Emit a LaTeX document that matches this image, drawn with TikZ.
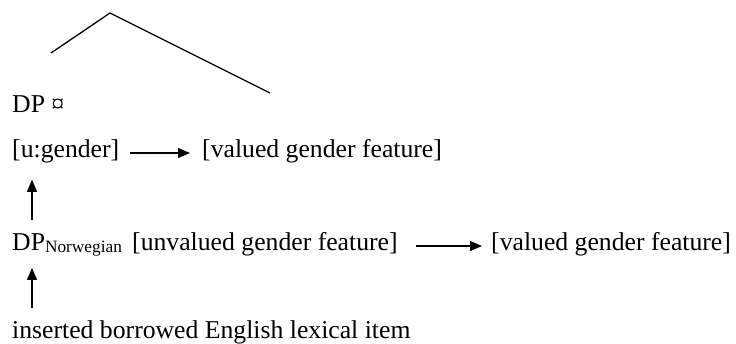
\documentclass[tikz,border=0pt]{standalone}
\usepackage{fontspec}
\setmainfont{Liberation Serif}
\usetikzlibrary{arrows.meta}
\begin{document}
\begin{tikzpicture}[x=1pt,y=-1pt,
  txt/.style={anchor=base west,inner sep=0pt,font=\fontsize{25.7}{30}\selectfont},
  ln/.style={line width=1.3pt},
  arr/.style={line width=1.3pt,-{Triangle[length=12pt,width=10pt]}}]
\useasboundingbox (0,0) rectangle (736,343);
% tree fragment
\coordinate (apex) at (110,13);
\coordinate (lb) at (51,53);
\coordinate (rb) at (270,93);
\draw[ln] (lb) -- (apex) -- (rb);
% texts
\node[txt] (dp) at (12,112) {DP ¤};
\node[txt] (ug) at (12,157) {[u:gender]};
\node[txt] (vg1) at (202,157) {[valued gender feature]};
\node[txt] (dpn) at (12,250) {DP\raisebox{-2pt}{\fontsize{17.3}{20}\selectfont Norwegian}};
\node[txt] (unv) at (132,250) {[unvalued gender feature]};
\node[txt] (vg2) at (491,250) {[valued gender feature]};
\node[txt] (ins) at (12,338) {inserted borrowed English lexical item};
% arrows
\draw[arr] ([shift={(11,-4)}]ug.base east) -- ([shift={(-12,-4)}]vg1.base west);
\draw[arr] ([shift={(18,-4)}]unv.base east) -- ([shift={(-9,-4)}]vg2.base west);
\draw[arr] ([shift={(20,-13)}]dpn.north west) -- ([shift={(20,17)}]ug.south west);
\draw[arr] ([shift={(20,-12)}]ins.north west) -- ([shift={(20,12)}]dpn.south west);
\end{tikzpicture}
\end{document}
